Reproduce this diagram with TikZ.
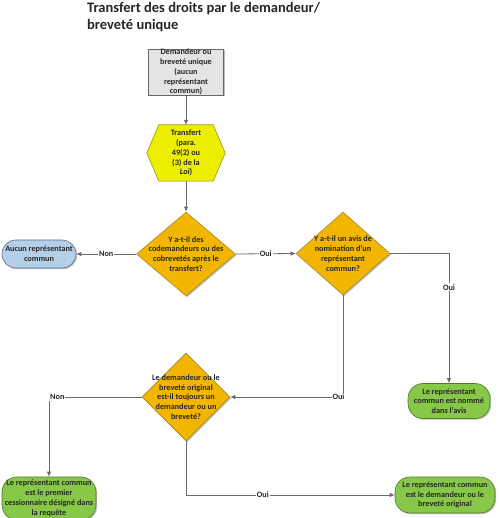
\documentclass[tikz,border=0pt]{standalone}
\usepackage{fontspec}
\setmainfont{Carlito}
\usetikzlibrary{shapes.geometric,shapes.misc,arrows.meta,shadows,backgrounds}
\definecolor{linegray}{HTML}{6A6A6A}
\definecolor{boxgray}{HTML}{E4E4E4}
\definecolor{hexyellow}{HTML}{EDED00}
\definecolor{hexborder}{HTML}{9A9A20}
\definecolor{dorange}{HTML}{F2B600}
\definecolor{dborder}{HTML}{A88A30}
\definecolor{bblue}{HTML}{B4D0E8}
\definecolor{bborder}{HTML}{5A6E80}
\definecolor{ggreen}{HTML}{88C848}
\definecolor{gborder}{HTML}{4E7A2A}
\begin{document}
\begin{tikzpicture}[x=1pt,y=-1pt,
  every node/.style={font=\bfseries\fontsize{8.2}{9.8}\selectfont, text=black!85},
  shd/.style={drop shadow={shadow xshift=1.2pt,shadow yshift=-1.2pt,opacity=0.25,fill=black}},
  startbox/.style={rectangle,draw=gray!80!black,fill=boxgray,line width=0.6pt,minimum width=75pt,minimum height=44pt,inner sep=0pt,shd},
  hexbox/.style={rectangle,minimum width=78pt,minimum height=56pt,inner sep=0pt},
  hexfill/.style={draw=hexborder,fill=hexyellow,line width=0.6pt},
  decbox/.style={diamond,draw=dborder,fill=dorange,line width=0.6pt,inner sep=0pt,shd},
  dtext/.style={align=center,inner sep=0pt},
  bluebox/.style={rounded rectangle,draw=bborder,fill=bblue,line width=0.6pt,minimum width=74pt,minimum height=28pt,inner sep=0pt,align=center,shd},
  greenbox/.style={rectangle,rounded corners=15pt,draw=gborder,fill=ggreen,line width=0.6pt,inner sep=0pt,align=center,shd},
  conn/.style={draw=linegray,line width=0.8pt,-{Latex[length=5pt,width=4.5pt]}},
  lbl/.style={fill=white,inner sep=1pt,text=black!85}
]
\useasboundingbox (0,0) rectangle (499,518);

\node[anchor=north west,align=left,inner sep=0pt,font=\bfseries\fontsize{14.5}{17}\selectfont] (title) at (87,2)
  {Transfert des droits par le demandeur/\\breveté unique};

\node[startbox,align=center] (start) at (186,72)
  {Demandeur ou\\breveté unique\\(aucun\\représentant\\commun)};

\node[hexbox,align=center] (hex) at (186,153)
  {Transfert\\(para.\\49(2) ou\\(3) de la\\\textit{Loi})};
\begin{scope}[on background layer]
  \fill[white] (0,0) rectangle (499,518);
  \fill[black,opacity=0.25,shift={(1.2,1.2)}] (hex.west) -- ([xshift=12pt]hex.north west) -- ([xshift=-12pt]hex.north east) -- (hex.east) -- ([xshift=-12pt]hex.south east) -- ([xshift=12pt]hex.south west) -- cycle;
  \path[hexfill] (hex.west) -- ([xshift=12pt]hex.north west) -- ([xshift=-12pt]hex.north east) -- (hex.east) -- ([xshift=-12pt]hex.south east) -- ([xshift=12pt]hex.south west) -- cycle;
\end{scope}

\node[decbox,minimum width=99pt,minimum height=84pt] (d1) at (186,254) {};
\node[dtext] (d1t) at (d1.center) {Y a-t-il des\\codemandeurs ou des\\cobrevetés après le\\transfert?};

\node[decbox,minimum width=94pt,minimum height=83pt] (d2) at (343,253.5) {};
\node[dtext] (d2t) at (d2.center) {Y a-t-il un avis de\\nomination d’un\\représentant\\commun?};

\node[decbox,minimum width=88pt,minimum height=88pt] (d3) at (186,397) {};
\node[dtext] (d3t) at (d3.center) {Le demandeur ou le\\breveté original\\est-il toujours un\\demandeur ou un\\breveté?};

\node[bluebox] (blue) at (39,254) {Aucun représentant\\commun};

\node[greenbox,minimum width=82pt,minimum height=35pt] (g1) at (449,401)
  {Le représentant\\commun est nommé\\dans l’avis};
\node[greenbox,minimum width=94pt,minimum height=43pt] (g2) at (49,498.5)
  {Le représentant commun\\est le premier\\cessionnaire désigné dans\\la requête};
\node[greenbox,minimum width=100pt,minimum height=36pt] (g3) at (445,495)
  {Le représentant commun\\est le demandeur ou le\\breveté original};

\draw[conn] (start.south) -- (hex.north);
\draw[conn] (hex.south) -- (d1.north);
\draw[conn] (d1.west) -- node[lbl] (l1) {Non} (blue.east);
\draw[conn] (d1.east) -- node[lbl] (l2) {Oui} (d2.west);
\draw[conn] (d2.east) -| node[lbl,pos=0.63] (l3) {Oui} (g1.north);
\draw[conn] (d2.south) |- node[lbl,pos=0.52] (l4) {Oui} (d3.east);
\draw[conn] (d3.west) -| node[lbl,pos=0.455] (l5) {Non} (g2.north);
\draw[conn] (d3.south) |- node[lbl,pos=0.684] (l6) {Oui} (g3.west);
\end{tikzpicture}
\end{document}
